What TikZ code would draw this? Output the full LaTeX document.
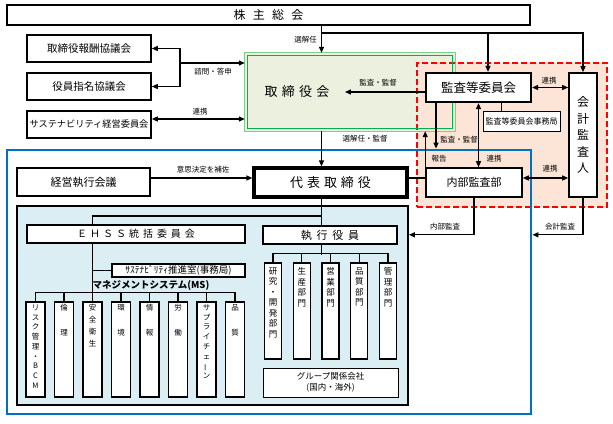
\documentclass[tikz,border=0pt]{standalone}
\usepackage{fontspec}
\setmainfont{Noto Sans CJK JP}
\usepackage{graphicx}
\usetikzlibrary{arrows, arrows.meta}

\definecolor{bodfill}{RGB}{235,241,222}
\definecolor{bodline}{RGB}{0,176,80}
\definecolor{bodlight}{RGB}{120,210,140}
\definecolor{zonefill}{RGB}{252,228,214}
\definecolor{execblue}{RGB}{0,112,192}
\definecolor{panelfill}{RGB}{218,238,243}

\newcommand{\ws}[1][.35em]{\hspace{#1}}
\newcommand{\fsz}[2]{\fontsize{#1}{#2}\selectfont}

\tikzset{
  box/.style={draw, line width=1.6pt, fill=white, inner sep=0pt},
  thinbox/.style={draw, line width=1pt, fill=white, inner sep=0pt},
  vbox/.style={draw, line width=1.2pt, fill=white, inner sep=0pt},
  vtext/.style={anchor=north, align=center, inner sep=0pt},
  lbl/.style={font=\fsz{7.5}{9}, inner sep=1pt},
  conn/.style={line width=1.3pt},
}

\begin{document}
\begin{tikzpicture}[x=1pt, y=-1pt, >={Triangle[length=6pt, width=5pt]}]
\useasboundingbox (0,0) rectangle (613,423);

\coordinate (spine) at (321.5,0);
\coordinate (split) at (321.5,33);

% regions
\node[fill=bodfill, minimum width=210, minimum height=78, inner sep=0pt] (bod) at (350,92) {};
\node[draw=red, fill=zonefill, dashed, dash pattern=on 6pt off 3pt, line width=1.8pt,
      minimum width=190, minimum height=144, inner sep=0pt] (zone) at (512,135) {};
\draw[draw=bodlight, line width=1.1pt] (bod.north west) rectangle (bod.south east);
\draw[draw=bodline, line width=1pt] ([xshift=2.3pt, yshift=-2.3pt]bod.north west) rectangle ([xshift=-2.3pt, yshift=2.3pt]bod.south east);
\node[font=\fsz{13}{15}] (bodtext) at (297,92) {取\ws[.33em]締\ws[.33em]役\ws[.33em]会};
\node[draw=execblue, line width=2.8pt, minimum width=524, minimum height=264, inner sep=0pt] (exec) at (269,282) {};
\node[draw, line width=1.8pt, fill=panelfill, minimum width=391, minimum height=199, inner sep=0pt] (panel) at (212.5,305.5) {};

% boxes
\node[box, minimum width=523, minimum height=20, font=\fsz{12}{14}] (soukai) at (268.5,15)
  {株\ws[.6em]主\ws[.6em]総\ws[.6em]会};
\node[box, minimum width=124, minimum height=27, font=\fsz{10.5}{12}] (hoshu) at (89,48.5) {取締役報酬協議会};
\node[box, minimum width=124, minimum height=27, font=\fsz{10.5}{12}] (shimei) at (89,86.5) {役員指名協議会};
\node[box, minimum width=124, minimum height=27, font=\fsz{9.2}{11}] (sustain) at (89,124.5) {サステナビリティ経営委員会};

\node[box, line width=2.2pt, minimum width=105, minimum height=29, font=\fsz{12.5}{14}] (kansa) at (478.5,87.5) {監査等委員会};
\node[thinbox, minimum width=77, minimum height=20, font=\fsz{8}{9}] (jimukyoku) at (521.5,121) {監査等委員会事務局};
\node[box, minimum width=28, minimum height=124, align=center, font=\fsz{12}{16.5}] (kaikei) at (583,135)
  {会\\計\\監\\査\\人};
\node[box, minimum width=96, minimum height=29, font=\fsz{11}{13}] (naibu) at (474,182.5) {内部監査部};

\node[box, minimum width=133, minimum height=28, font=\fsz{11}{13}] (keiei) at (83.5,182) {経営執行会議};
\node[box, line width=3.2pt, minimum width=153, minimum height=29, font=\fsz{13}{15}] (daihyo) at (330.5,182.5)
  {代\ws[.3em]表\ws[.3em]取\ws[.3em]締\ws[.3em]役};
\node[box, line width=1.8pt, minimum width=218, minimum height=18, font=\fsz{10}{12}] (ehss) at (136,234)
  {Ｅ\ws[.3em]Ｈ\ws[.3em]Ｓ\ws[.3em]Ｓ\ws[.3em]統\ws[.4em]括\ws[.4em]委\ws[.4em]員\ws[.4em]会};
\node[box, line width=1.8pt, minimum width=134, minimum height=18, font=\fsz{11}{13}] (shikko) at (330,235)
  {執\ws[.43em]行\ws[.43em]役\ws[.43em]員};
\node[thinbox, line width=1.2pt, minimum width=133, minimum height=13, font=\fsz{9.5}{11}] (suishin) at (178.5,270.5)
  {ｻｽﾃﾅﾋﾞﾘﾃｨ推進室(事務局)};
\node[font=\bfseries\fsz{9.5}{11}, inner sep=0pt] (mslbl) at (151,285) {マネジメントシステム(MS)};

\foreach \txt [count=\i] in {
  {リ\\ス\\ク\\管\\理\\・\\B\\C\\M},
  {倫\\[15pt]理},
  {安\\[2pt]全\\[2pt]衛\\[2pt]生},
  {環\\[15pt]境},
  {情\\[15pt]報},
  {労\\[15pt]働},
  {サ\\プ\\ラ\\イ\\チ\\ェ\\\rotatebox[origin=c]{90}{ー}\\ン},
  {品\\[15pt]質}}
{
  \node[vbox, minimum width=19, minimum height=95] (ms\i) at ({35.5+28.5*(\i-1)},349.5) {};
  \node[vtext, font=\fsz{7.5}{9.75}] (mst\i) at ([yshift=-3pt]ms\i.north) {\txt};
}

\foreach \txt [count=\i] in {
  {研\\究\\・\\開\\発\\部\\門},
  {生\\産\\部\\門},
  {営\\業\\部\\門},
  {品\\質\\部\\門},
  {管\\理\\部\\門}}
{
  \node[vbox, minimum width=17, minimum height=96] (dept\i) at ({273+28.75*(\i-1)},311) {};
  \node[vtext, font=\fsz{8.5}{10.5}] (deptt\i) at ([yshift=-5pt]dept\i.north) {\txt};
}
\node[thinbox, minimum width=135, minimum height=29, align=center, font=\fsz{8.5}{11.5}] (group) at (330.5,382.5)
  {グループ関係会社\\(国内・海外)};

% shareholders
\draw[conn,->] (soukai.south -| spine) -- (bod.north -| spine);
\draw[conn,->] (split) -| ([xshift=9.5pt]kansa.north);
\draw[conn,->] (split) -| (kaikei.north);

% committees
\coordinate (fork) at (180,63);
\draw[conn,->] (fork) |- (hoshu.east);
\draw[conn,->] (fork) |- (shimei.east);
\draw[conn,->] (fork) -- (fork -| bod.west);
\draw[conn,<->] ([yshift=5.5pt]sustain.east) -- ([yshift=5.5pt]sustain.east -| bod.west);

% audit
\draw[conn,->] (bodtext.east -| kansa.west) -- ([xshift=12pt]bodtext.east);
\draw[conn,<->] (kansa.east) -- (kansa.east -| kaikei.west);
\draw[line width=1pt] ([xshift=-20pt]jimukyoku.north) -- ([xshift=-20pt]jimukyoku.north |- kansa.south);
\draw[conn,->] ([xshift=-42.5pt]kansa.south) -- ([xshift=-42.5pt]kansa.south |- exec.north);
\draw[conn,->] (naibu.north west) -- (naibu.north west |- bod.south);
\draw[conn,<->] (kansa.south) -- (kansa.south |- naibu.north);
\draw[conn,<->] ([yshift=4.5pt]naibu.east) -- ([yshift=4.5pt]naibu.east -| kaikei.west);
\draw[conn] ([yshift=4.5pt]daihyo.east) -- ([yshift=4.5pt]daihyo.east -| naibu.west);

% executive
\draw[conn,->] (bod.south -| spine) -- (daihyo.north -| spine);
\draw[conn,->] ([yshift=4pt]keiei.east) -- ([yshift=4pt]keiei.east -| daihyo.west);
\draw[conn] (daihyo.south -| spine) -- (shikko.north -| spine);
\coordinate (tee) at (321.5,216);
\draw[conn] (tee) -| (ehss.north -| ms3.north);
\draw[conn] (ehss.south -| ms3.north) -- (ms3.north);
\draw[conn] (suishin.west) -- (suishin.west -| ms3.north);
\draw[conn] (ms1.north) -- ++(0,-9) -| (ms8.north);
\foreach \i in {2,...,7} \draw[conn] (ms\i.north) -- ++(0,-9);
\draw[conn] (shikko.south -| spine) -- ++(0,10);
\draw[conn] (dept1.north) -- ++(0,-9) -| (dept5.north);
\foreach \i in {2,3,4} \draw[conn] (dept\i.north) -- ++(0,-9);

% reporting
\draw[conn,->] (naibu.south) -- ++(0,37) coordinate (nb) -- (nb -| panel.east);
\draw[conn,->] (kaikei.south) -- ++(0,37) coordinate (kb) -- (kb -| exec.east);

% labels
\node[lbl, anchor=east] (lblsenin) at (318,40) {選解任};
\node[lbl] (lblshimon) at (213,72) {諮問・答申};
\node[lbl] (lblrenkei1) at (200,112) {連携};
\node[lbl] (lblkansa1) at (378,83) {監査・監督};
\node[lbl] (lblrenkei2) at (549,81) {連携};
\node[lbl] (lblkansa2) at (459,140) {監査・監督};
\node[lbl] (lblsenin2) at (365,139) {選解任・監督};
\node[lbl] (lblhokoku) at (439,159) {報告};
\node[lbl] (lblrenkei3) at (494,159) {連携};
\node[lbl] (lblrenkei4) at (550,169) {連携};
\node[lbl] (lblhosa) at (203,170) {意思決定を補佐};
\node[lbl] (lblnaibu) at (445,227) {内部監査};
\node[lbl] (lblkaikei) at (560,227) {会計監査};
\end{tikzpicture}
\end{document}
